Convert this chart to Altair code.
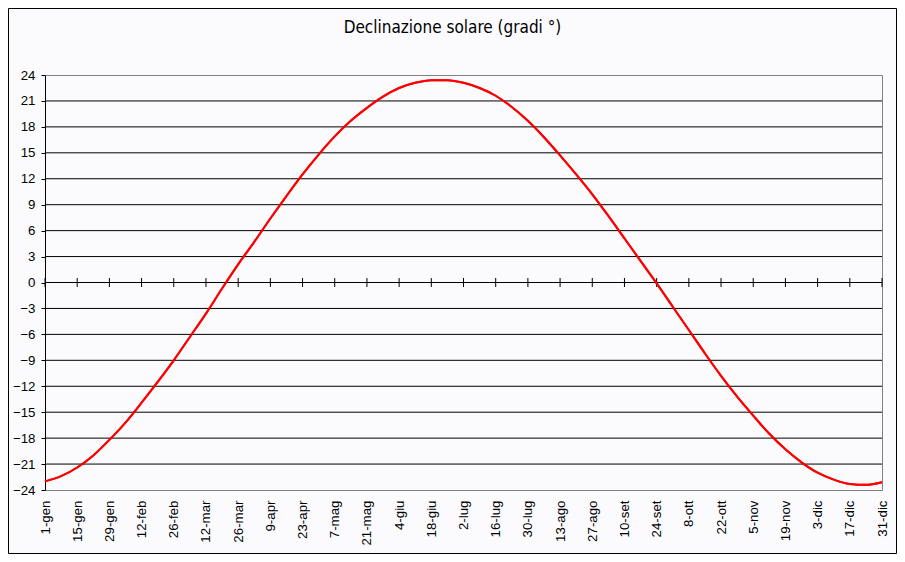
import altair as alt
import pandas as pd

title_text = "Declinazione solare (gradi °)"

tick_labels = ["1-gen", "15-gen", "29-gen", "12-feb", "26-feb", "12-mar", "26-mar",
               "9-apr", "23-apr", "7-mag", "21-mag", "4-giu", "18-giu", "2-lug",
               "16-lug", "30-lug", "13-ago", "27-ago", "10-set", "24-set", "8-ott",
               "22-ott", "5-nov", "19-nov", "3-dic", "17-dic", "31-dic"]
tick_days = [0, 14, 28, 42, 56, 70, 84, 98, 112, 126, 140, 154, 168, 182,
             196, 210, 224, 238, 252, 266, 280, 294, 308, 322, 336, 350, 364]

# day of year (0 = 1 gen), one reading per week
days = [0, 7, 14, 21, 28, 35, 42, 49, 56, 63, 70, 77, 84, 91, 98, 105, 112, 119,
        126, 133, 140, 147, 154, 161, 168, 175, 182, 189, 196, 203, 210, 217, 224,
        231, 238, 245, 252, 259, 266, 273, 280, 287, 294, 301, 308, 315, 322, 329,
        336, 343, 350, 357, 364]
decl = [-23.0, -22.4, -21.4, -20.0, -18.2, -16.2, -13.9, -11.5, -9.0, -6.3, -3.6,
        -0.7, 2.1, 4.7, 7.4, 10.0, 12.5, 14.8, 16.9, 18.7, 20.2, 21.5, 22.5, 23.1,
        23.4, 23.4, 23.1, 22.5, 21.6, 20.3, 18.7, 16.8, 14.7, 12.5, 10.2, 7.7, 5.1,
        2.5, -0.1, -2.8, -5.5, -8.2, -10.8, -13.2, -15.4, -17.5, -19.3, -20.8,
        -22.0, -22.8, -23.3, -23.4, -23.1]

y_ticks = [-24, -21, -18, -15, -12, -9, -6, -3, 0, 3, 6, 9, 12, 15, 18, 21, 24]
grid_values = [-21, -18, -15, -12, -9, -6, -3, 0, 3, 6, 9, 12, 15, 18, 21]

line_df = pd.DataFrame({"day": days, "decl": decl})
tick_df = pd.DataFrame({"day": tick_days, "decl": [0] * len(tick_days)})
grid_df = pd.DataFrame({"decl": grid_values})

label_expr = "[" + ",".join("'%s'" % l for l in tick_labels) + "][round(datum.value/14)]"

FONT = "Liberation Sans"
BG = "#fbfbfd"

x_scale = alt.Scale(domain=[0, 364], nice=False, zero=False)
y_scale = alt.Scale(domain=[-24, 24], nice=False, zero=False)

x_axis = alt.Axis(values=tick_days, labelExpr=label_expr, labelAngle=-90,
                  ticks=False, domain=False, grid=False, labelPadding=10,
                  labelFont=FONT, labelFontSize=13.3, labelColor="black",
                  labelOverlap=False, labelBound=False, title=None)
y_axis = alt.Axis(values=y_ticks, grid=False, tickSize=4, tickColor="black",
                  domainColor="black", labelPadding=6, labelFont=FONT,
                  labelFontSize=13.3, labelColor="black", labelOverlap=False,
                  labelBound=False, title=None)


def xe():
    return alt.X("day:Q", scale=x_scale, axis=x_axis)


def ye():
    return alt.Y("decl:Q", scale=y_scale, axis=y_axis)


line = alt.Chart(line_df).mark_line(color="#ff0000", strokeWidth=2,
                                    interpolate="monotone").encode(x=xe(), y=ye())

grid = alt.Chart(grid_df).mark_rule(color="black", strokeWidth=1).encode(y=ye())

zero_ticks = alt.Chart(tick_df).mark_tick(orient="vertical", size=9, thickness=1,
                                          color="black", opacity=1).encode(x=xe(), y=ye())

frame = alt.Chart(pd.DataFrame({"f": [0]})).mark_rect(
    fill=None, stroke="black", strokeWidth=1
).encode(
    x=alt.value(-36.5), x2=alt.value(851.5), y=alt.value(-66.5), y2=alt.value(478.5)
)

chart = alt.layer(line, grid, zero_ticks, line, frame).properties(
    width=837,
    height=415,
    autosize=alt.AutoSizeParams(type="none"),
    padding={"left": 37, "top": 67, "right": 15, "bottom": 64},
    title=alt.TitleParams(title_text, font="DejaVu Sans Condensed", fontSize=17,
                          fontWeight="normal", color="black", anchor="middle",
                          dx=-11, offset=-42, baseline="alphabetic"),
).configure(background=BG).configure_view(
    fill=BG, stroke="#808080", strokeWidth=1
)

chart.save("out.html", embed_options={"renderer": "svg", "actions": False})
